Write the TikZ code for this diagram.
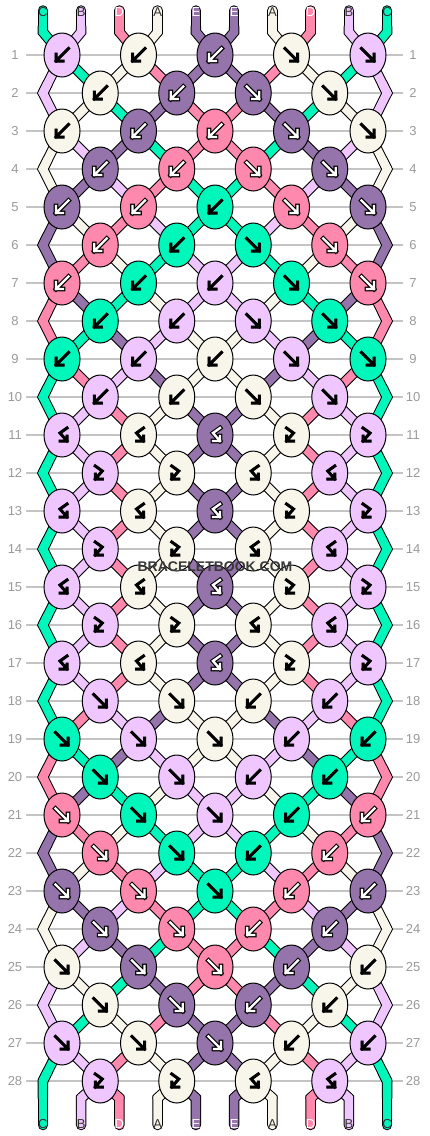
\documentclass[tikz,border=0pt]{standalone}
\usepackage{fontspec}
\setmainfont{Liberation Sans}
\usetikzlibrary{shapes.geometric,backgrounds,calc}

\definecolor{sC}{HTML}{00F7BC}
\definecolor{sB}{HTML}{EFC6FF}
\definecolor{sD}{HTML}{FF88AE}
\definecolor{sA}{HTML}{F8F6EA}
\definecolor{sE}{HTML}{9573AB}
\definecolor{guide}{HTML}{C4C4C4}
\definecolor{numgray}{HTML}{9A9A9A}
\definecolor{tagdark}{HTML}{333333}

\tikzstyle{knot} = [ellipse, draw, line width=1pt, minimum width=36pt,
    minimum height=44pt, inner sep=0pt]
\tikzstyle{glyph} = [line join=miter, line cap=rect]
\tikzstyle{rowline} = [draw=guide, line width=1.3pt]
\tikzstyle{rownum} = [text=numgray, font=\fontsize{13}{13}\selectfont, inner sep=0pt]
\tikzstyle{tag} = [font=\fontsize{13}{13}\selectfont, inner sep=0pt]
\tikzstyle{piece} = [line cap=round, line join=miter]

% knot glyphs: forward, backward, forward-backward, backward-forward
\newcommand\gf{(-6.5,-6.5) -- (6,6) (6,-1) -- (6,6) -- (-1,6)}
\newcommand\gb{(6.5,-6.5) -- (-6,6) (-6,-1) -- (-6,6) -- (1,6)}
\newcommand\gp{(-5,-7) -- (2,-2) -- (-5,6) (-5,1) -- (-5,6) -- (2,6)}
\newcommand\gq{(5,-7) -- (-2,-2) -- (5,6) (5,1) -- (5,6) -- (-2,6)}

% one pass over every string piece (outline or colour)
\newcommand\strandpass[1]{%
  \foreach \r/\st in {0/{C,B,D,A,E,E,A,D,B,C}, 1/{B,C,A,D,E,E,D,A,C,B},
      2/{B,A,C,E,D,D,E,C,A,B}, 3/{A,B,E,C,D,D,C,E,B,A},
      4/{A,E,B,D,C,C,D,B,E,A}, 5/{E,A,D,B,C,C,B,D,A,E},
      6/{E,D,A,C,B,B,C,A,D,E}, 7/{D,E,C,A,B,B,A,C,E,D},
      8/{D,C,E,B,A,A,B,E,C,D}, 9/{C,D,B,E,A,A,E,B,D,C},
      10/{C,B,D,A,E,E,A,D,B,C}, 11/{C,B,D,A,E,E,A,D,B,C},
      12/{C,B,D,A,E,E,A,D,B,C}, 13/{C,B,D,A,E,E,A,D,B,C},
      14/{C,B,D,A,E,E,A,D,B,C}, 15/{C,B,D,A,E,E,A,D,B,C},
      16/{C,B,D,A,E,E,A,D,B,C}, 17/{C,B,D,A,E,E,A,D,B,C},
      18/{C,D,B,E,A,A,E,B,D,C}, 19/{D,C,E,B,A,A,B,E,C,D},
      20/{D,E,C,A,B,B,A,C,E,D}, 21/{E,D,A,C,B,B,C,A,D,E},
      22/{E,A,D,B,C,C,B,D,A,E}, 23/{A,E,B,D,C,C,D,B,E,A},
      24/{A,B,E,C,D,D,C,E,B,A}, 25/{B,A,C,E,D,D,E,C,A,B},
      26/{B,C,A,D,E,E,D,A,C,B}, 27/{C,B,D,A,E,E,A,D,B,C},
      28/{C,B,D,A,E,E,A,D,B,C}} {
    \pgfmathtruncatemacro\rn{\r+1}
    \pgfmathtruncatemacro\rp{\r-1}
    \foreach \c [count=\p from 0] in \st {
      \ifnum\r=0 \def\pv{t-\p}\else \def\pv{s-\rp-\p}\fi
      \draw[draw=s\c, piece, #1] ($(s-\r-\p)!0.25!(\pv)$) -- (s-\r-\p) -- (s-\rn-\p);
    }
  }
  \foreach \c [count=\p from 0] in {C,B,D,A,E,E,A,D,B,C} {
    \draw[draw=s\c, piece, #1] (t-\p) -- (s-0-\p);
    \draw[draw=s\c, piece, #1] ($(s-29-\p)!0.25!(s-28-\p)$) -- (s-29-\p) -- (b-\p);
  }
}

\begin{document}
\begin{tikzpicture}[x=1pt, y=-1pt]
\useasboundingbox (0,0) rectangle (430,1136);

\foreach \r/\kn in {1/{b/B,b/A,b/E,f/A,f/B}, 2/{b/A,b/E,f/E,f/A},
    3/{b/A,b/E,b/D,f/E,f/A}, 4/{b/E,b/D,f/D,f/E},
    5/{b/E,b/D,b/C,f/D,f/E}, 6/{b/D,b/C,f/C,f/D},
    7/{b/D,b/C,b/B,f/C,f/D}, 8/{b/C,b/B,f/B,f/C},
    9/{b/C,b/B,b/A,f/B,f/C}, 10/{b/B,b/A,f/A,f/B},
    11/{q/B,q/A,q/E,p/A,p/B}, 12/{p/B,p/A,q/A,q/B},
    13/{q/B,q/A,q/E,p/A,p/B}, 14/{p/B,p/A,q/A,q/B},
    15/{q/B,q/A,q/E,p/A,p/B}, 16/{p/B,p/A,q/A,q/B},
    17/{q/B,q/A,q/E,p/A,p/B}, 18/{f/B,f/A,b/A,b/B},
    19/{f/C,f/B,f/A,b/B,b/C}, 20/{f/C,f/B,b/B,b/C},
    21/{f/D,f/C,f/B,b/C,b/D}, 22/{f/D,f/C,b/C,b/D},
    23/{f/E,f/D,f/C,b/D,b/E}, 24/{f/E,f/D,b/D,b/E},
    25/{f/A,f/E,f/D,b/E,b/A}, 26/{f/A,f/E,b/E,b/A},
    27/{f/B,f/A,f/E,b/A,b/B}, 28/{p/B,p/A,q/A,q/B}} {
  \pgfmathsetmacro\yy{55+38*(\r-1)}
  \pgfmathtruncatemacro\odd{mod(\r,2)}
  \foreach \t/\c [count=\j from 0] in \kn {
    \pgfmathtruncatemacro\i{2*\j+1-\odd}
    \pgfmathtruncatemacro\ii{\i+1}
    \node[knot, fill=s\c] (k-\r-\i) at ({215+38.25*(\i-4)},\yy) {};
    \coordinate (s-\r-\i) at (k-\r-\i.center);
    \coordinate (s-\r-\ii) at (k-\r-\i.center);
    \def\fg{black}\def\ow{3}
    \if\c D\def\fg{white}\def\ow{4.6}\fi
    \if\c E\def\fg{white}\def\ow{4.6}\fi
    \draw[glyph, line width=\ow pt, shift={(k-\r-\i.center)}] \csname g\t\endcsname;
    \draw[glyph, line width=2.4pt, draw=\fg, shift={(k-\r-\i.center)}] \csname g\t\endcsname;
  }
  \ifnum\odd=0
    \coordinate (s-\r-0) at ({215-38.25*4.5},\yy);
    \coordinate (s-\r-9) at ({215+38.25*4.5},\yy);
  \fi
}

\foreach \c/\tc [count=\p from 0] in {C/tagdark,B/tagdark,D/white,A/tagdark,E/white,
    E/white,A/tagdark,D/white,B/tagdark,C/tagdark} {
  \pgfmathsetmacro\xx{215+38.25*(\p-4.5)}
  \coordinate (t-\p) at (\xx,10.5);
  \coordinate (s-0-\p) at (\xx,32);
  \coordinate (s-29-\p) at (\xx,1098);
  \coordinate (b-\p) at (\xx,1125);
  \node[tag, text=\tc] (lt-\p) at (\xx,12.5) {\c};
  \node[tag, text=\tc] (lb-\p) at (\xx,1124) {\c};
}

\foreach \r in {1,...,28} {
  \pgfmathsetmacro\yy{55+38*(\r-1)}
  \node[rownum, minimum width=22pt] (nl-\r) at (15,\yy) {\r};
  \node[rownum, minimum width=20pt] (nr-\r) at (413,\yy) {\r};
}

\begin{pgfonlayer}{background}
\fill[white] (0,0) rectangle (430,1136);
\foreach \r in {1,...,28} \draw[rowline] (nl-\r.east) -- (nr-\r.west);
\strandpass{draw=black, line width=10.5pt}
\strandpass{line width=8.5pt}
\end{pgfonlayer}

\node[font=\bfseries\fontsize{14}{14}\selectfont, text=black!78] (mark) at (215,567) {BRACELETBOOK.COM};
\end{tikzpicture}
\end{document}
